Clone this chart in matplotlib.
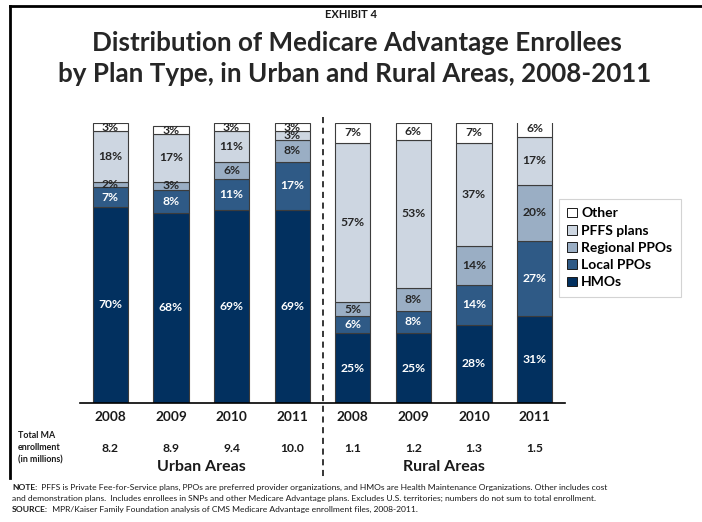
import matplotlib
matplotlib.use("Agg")
import matplotlib.pyplot as plt
from matplotlib.transforms import blended_transform_factory
from matplotlib.patches import Patch
from matplotlib.lines import Line2D

plt.rcParams['font.family'] = ['Lato', 'DejaVu Sans']

# ---- data ----
years = ["2008", "2009", "2010", "2011", "2008", "2009", "2010", "2011"]
areas = ["Urban Areas", "Rural Areas"]
enrollment = ["8.2", "8.9", "9.4", "10.0", "1.1", "1.2", "1.3", "1.5"]

series_names = ["HMOs", "Local PPOs", "Regional PPOs", "PFFS plans", "Other"]
hmos = [70, 68, 69, 69, 25, 25, 28, 31]
local_ppos = [7, 8, 11, 17, 6, 8, 14, 27]
regional_ppos = [2, 3, 6, 8, 5, 8, 14, 20]
pffs = [18, 17, 11, 3, 57, 53, 37, 17]
other = [3, 3, 3, 3, 7, 6, 7, 6]

series = [hmos, local_ppos, regional_ppos, pffs, other]
colors = ["#02305f", "#2f5a86", "#9aaec4", "#cdd6e1", "#ffffff"]
label_colors = ["white", "white", "#262626", "#262626", "#262626"]

W, H = 702, 522
fig = plt.figure(figsize=(W / 100, H / 100), dpi=100)

def fx(px):
    return px / W

def fy(py):
    return 1 - py / H

ax = fig.add_axes([fx(80), fy(403), fx(565) - fx(80), fy(123) - fy(403)])
x = list(range(len(years)))
bottom = [0] * len(years)
for vals, col, lc in zip(series, colors, label_colors):
    ax.bar(x, vals, width=0.58, bottom=bottom, color=col,
           edgecolor="#3c3c3c", linewidth=0.8, zorder=2)
    for xi, b, v in zip(x, bottom, vals):
        ax.text(xi, b + v / 2, f"{v}%", ha="center", va="center",
                color=lc, fontsize=8.7, fontweight="bold", zorder=3)
    bottom = [b + v for b, v in zip(bottom, vals)]

ax.set_xlim(-0.5, len(years) - 0.5)
ax.set_ylim(0, 100)
for s in ["top", "right", "left"]:
    ax.spines[s].set_visible(False)
ax.spines["bottom"].set_color("black")
ax.spines["bottom"].set_linewidth(1.2)
ax.set_xticks([])
ax.set_yticks([])
ax.patch.set_alpha(0)

tr = blended_transform_factory(ax.transData, fig.transFigure)
for xi, yr, en in zip(x, years, enrollment):
    ax.text(xi, fy(417), yr, transform=tr, ha="center", va="center",
            fontsize=9.8, fontweight="bold", color="#1a1a1a")
    ax.text(xi, fy(448), en, transform=tr, ha="center", va="center",
            fontsize=8.7, fontweight="bold", color="#1a1a1a")

ax.text(1.5, fy(467), areas[0], transform=tr, ha="center", va="center",
        fontsize=11.5, fontweight="bold", color="#1a1a1a")
ax.text(5.5, fy(467), areas[1], transform=tr, ha="center", va="center",
        fontsize=11.5, fontweight="bold", color="#1a1a1a")

# urban / rural divider
ax.add_line(Line2D([3.5, 3.5], [fy(117), fy(478)], transform=tr,
                   color="black", linestyle=(0, (4, 3)), linewidth=1.1,
                   clip_on=False))

for i, t in enumerate(["Total MA", "enrollment", "(in millions)"]):
    fig.text(fx(18), fy(435 + 12.5 * i), t, ha="left", va="center",
             fontsize=6.4, fontweight="bold", color="#1a1a1a")

# legend
handles = [Patch(facecolor=c, edgecolor="#1a1a1a", linewidth=0.7)
           for c in colors][::-1]
leg = fig.legend(handles, series_names[::-1], loc="upper left",
                 bbox_to_anchor=(fx(559), fy(199)), frameon=True,
                 prop={"weight": "bold", "size": 10}, handlelength=0.7,
                 handleheight=0.7, handletextpad=0.3, labelspacing=0.38,
                 borderpad=0.6, borderaxespad=0, fancybox=False)
leg.get_frame().set_edgecolor("#c8c8c8")
leg.get_frame().set_linewidth(0.8)

# titles
fig.text(0.5, fy(15), "EXHIBIT 4", ha="center", va="center",
         fontsize=8, fontweight="bold", color="#1a1a1a")
fig.text(fx(357), fy(43), "Distribution of Medicare Advantage Enrollees",
         ha="center", va="center", fontsize=18.7, fontweight="bold",
         color="#262626")
fig.text(fx(355), fy(74), "by Plan Type, in Urban and Rural Areas, 2008-2011",
         ha="center", va="center", fontsize=18.7, fontweight="bold",
         color="#262626")

# frame lines
fig.add_artist(Line2D([fx(10), 1.0], [fy(6), fy(6)], transform=fig.transFigure,
                      color="black", linewidth=2))
fig.add_artist(Line2D([fx(10), fx(10)], [fy(6), fy(478)],
                      transform=fig.transFigure, color="black", linewidth=2))

# notes
renderer = fig.canvas.get_renderer()
notes = [
    ("NOTE:", "  PFFS is Private Fee-for-Service plans, PPOs are preferred provider organizations, and HMOs are Health Maintenance Organizations. Other includes cost"),
    ("", "and demonstration plans.  Includes enrollees in SNPs and other Medicare Advantage plans. Excludes U.S. territories; numbers do not sum to total enrollment."),
    ("SOURCE:", "  MPR/Kaiser Family Foundation analysis of CMS Medicare Advantage enrollment files, 2008-2011."),
]
for i, (head, body) in enumerate(notes):
    y = fy(487 + 11 * i)
    xpos = fx(12)
    if head:
        t = fig.text(xpos, y, head, ha="left", va="center", fontsize=6.1,
                     fontweight="bold", color="#1a1a1a")
        bb = t.get_window_extent(renderer)
        xpos = bb.x1 / W
    fig.text(xpos, y, body, ha="left", va="center", fontsize=6.1,
             color="#1a1a1a")

fig.savefig("out.png", dpi=100)
